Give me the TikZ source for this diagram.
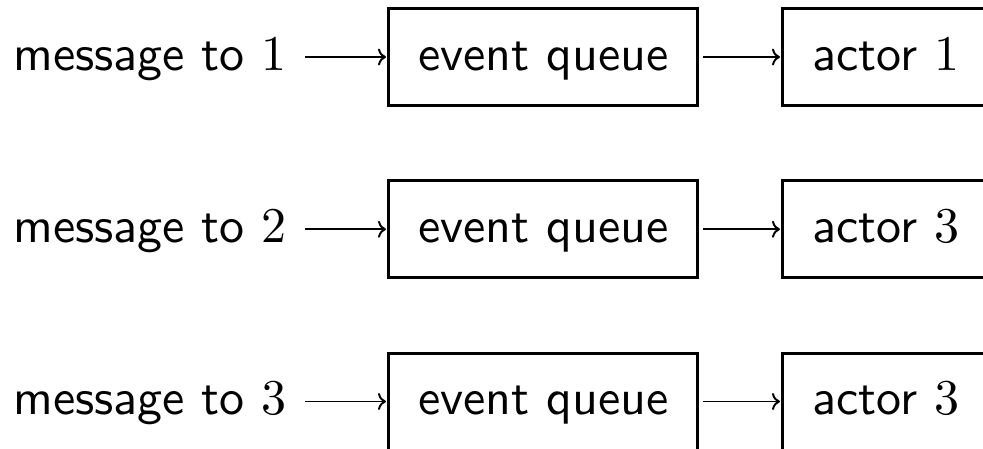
\documentclass[tikz,border=0pt]{standalone}
\usetikzlibrary{arrows.meta}
\tikzset{
  qbox/.style={draw, line width=0.6pt, inner xsep=5.9pt, inner ysep=0pt,
    minimum height=19.4pt, text height=6.6pt, text depth=1.4pt,
    anchor=west, font=\sffamily},
  msgtext/.style={inner sep=0pt, anchor=base west, font=\sffamily},
  conn/.style={line width=0.39pt, -{Computer Modern Rightarrow[length=1.6pt,width=3.4pt]}}
}
\begin{document}
\begin{tikzpicture}[x=1pt,y=1pt]
\useasboundingbox (0,0) rectangle (196.6,-89.6);
\clip (0,0) rectangle (196.6,-89.6);
\foreach \i/\a in {1/1,2/3,3/3}{
  \pgfmathsetmacro{\yc}{-11.4-34.45*(\i-1)}
  \node[msgtext] (m\i) at (2.5,\yc-2.6) {message to $\i$};
  \node[qbox] (e\i) at (77.5,\yc) {event queue};
  \node[qbox] (a\i) at (156.3,\yc) {actor $\a$};
  \draw[conn, shorten <=3.5pt, shorten >=0.3pt] (m\i.east |- e\i.west) -- (e\i.west);
  \draw[conn, shorten <=0.8pt, shorten >=0.3pt] (e\i.east) -- (a\i.west);
}
\end{tikzpicture}
\end{document}
